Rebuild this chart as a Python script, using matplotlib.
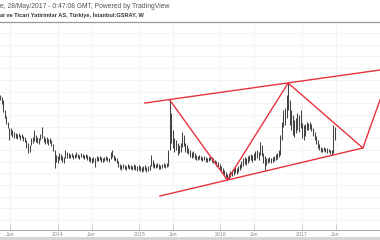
import matplotlib
matplotlib.use("Agg")
import matplotlib.pyplot as plt
import matplotlib.dates as mdates
from matplotlib.patches import Rectangle
import pandas as pd
import numpy as np

# ---- data (weekly bars, GSRAY) ----
start_date = "2013-04-15"
high = [7.75, 7.65, 7.50, 7.00, 6.70, 6.40, 6.10, 6.10, 6.00, 5.90,
        5.85, 5.80, 5.85, 5.75, 5.80, 5.70, 5.65, 5.50, 5.35, 5.25,
        5.60, 5.65, 6.00, 5.75, 5.65, 5.60, 5.80, 6.15, 5.70, 5.60,
        5.65, 5.55, 5.60, 5.50, 5.30, 5.00, 4.75, 4.70, 4.85, 4.80,
        4.70, 4.65, 5.00, 4.90, 4.85, 4.80, 4.85, 4.75, 4.80, 4.90,
        4.80, 4.75, 4.85, 4.80, 4.75, 4.80, 4.75, 4.70, 4.65, 4.60,
        4.65, 4.60, 4.70, 4.65, 4.70, 4.65, 4.60, 4.65, 4.70, 4.65,
        4.60, 4.90, 5.00, 4.75, 4.65, 4.60, 4.45, 4.30, 4.25, 4.30,
        4.25, 4.20, 4.30, 4.25, 4.25, 4.20, 4.30, 4.25, 4.20, 4.25,
        4.20, 4.15, 4.20, 4.25, 4.15, 4.20, 4.25, 4.75, 4.50, 4.35,
        4.30, 4.35, 4.30, 4.25, 4.30, 4.35, 4.30, 4.35, 5.00, 7.50,
        6.85, 6.00, 5.60, 5.50, 5.35, 5.25, 5.35, 5.90, 5.75, 5.35,
        5.25, 5.10, 5.00, 4.90, 4.95, 4.85, 4.75, 4.70, 4.75, 4.70,
        4.65, 4.70, 4.65, 4.60, 4.65, 4.70, 4.65, 4.60, 4.50, 4.45,
        4.40, 4.30, 4.20, 4.10, 4.00, 3.90, 3.80, 3.85, 3.95, 4.00,
        4.10, 4.15, 4.10, 4.20, 4.30, 4.45, 4.60, 4.65, 4.60, 4.70,
        4.75, 4.80, 4.75, 4.85, 4.95, 5.00, 4.90, 5.40, 5.25, 4.85,
        4.70, 4.60, 4.60, 4.65, 4.60, 4.65, 4.70, 4.80, 4.85, 5.00,
        5.75, 6.40, 7.00, 7.10, 7.75, 8.35, 7.50, 7.00, 6.75, 6.50,
        6.60, 6.85, 6.75, 7.00, 6.35, 6.25, 6.30, 6.40, 6.35, 6.40,
        6.30, 6.10, 5.90, 5.70, 5.50, 5.30, 5.15, 5.10, 5.15, 5.10,
        5.10, 5.05, 5.00, 5.00, 6.25, 6.15]
low = [7.50, 7.30, 6.90, 6.60, 6.30, 6.10, 5.50, 5.75, 5.65, 5.60,
       5.60, 5.55, 5.65, 5.50, 5.60, 5.45, 5.40, 5.10, 4.85, 4.90,
       5.25, 5.35, 5.45, 5.40, 5.35, 5.30, 5.50, 5.60, 5.40, 5.30,
       5.35, 5.25, 5.35, 5.20, 4.95, 4.10, 4.40, 4.35, 4.50, 4.50,
       4.40, 4.35, 4.60, 4.60, 4.60, 4.60, 4.65, 4.55, 4.60, 4.65,
       4.60, 4.55, 4.65, 4.60, 4.55, 4.60, 4.50, 4.45, 4.40, 4.35,
       4.40, 4.15, 4.45, 4.45, 4.50, 4.40, 4.40, 4.45, 4.50, 4.45,
       4.40, 4.55, 4.65, 4.50, 4.45, 4.35, 4.15, 4.05, 4.00, 4.10,
       4.05, 4.00, 4.10, 4.05, 4.05, 4.00, 4.05, 4.00, 3.95, 4.00,
       3.95, 3.90, 3.95, 4.00, 3.90, 3.95, 4.00, 4.20, 4.15, 4.10,
       4.10, 4.15, 4.05, 4.05, 4.10, 4.15, 4.10, 4.15, 4.20, 5.00,
       5.35, 5.10, 4.90, 5.00, 4.75, 4.85, 4.90, 5.15, 5.20, 4.90,
       4.85, 4.80, 4.65, 4.60, 4.65, 4.55, 4.50, 4.50, 4.55, 4.50,
       4.45, 4.50, 4.40, 4.40, 4.45, 4.50, 4.40, 4.35, 4.30, 4.20,
       4.15, 4.05, 3.95, 3.85, 3.75, 3.65, 3.50, 3.55, 3.65, 3.70,
       3.75, 3.85, 3.80, 3.90, 4.00, 4.10, 4.20, 4.30, 4.25, 4.35,
       4.45, 4.50, 4.40, 4.50, 4.50, 4.60, 4.50, 4.75, 4.70, 4.35,
       4.00, 4.25, 4.35, 4.40, 4.35, 4.40, 4.45, 4.50, 4.55, 4.65,
       4.75, 5.50, 6.15, 6.25, 6.60, 7.00, 6.25, 6.00, 5.75, 5.65,
       5.85, 6.00, 5.90, 6.10, 5.60, 5.50, 5.70, 6.00, 6.00, 6.05,
       5.95, 5.70, 5.50, 5.30, 5.10, 5.00, 4.90, 4.90, 4.95, 4.90,
       4.85, 4.90, 4.80, 4.75, 4.85, 5.50]

# trend drawings
channel_top_dates = ["2015-01-26", "2017-12-18"]
channel_top_prices = [7.35, 9.00]
channel_bot_dates = ["2015-04-04", "2017-10-02"]
channel_bot_prices = [2.70, 5.10]
zigzag_dates = ["2015-05-18", "2016-02-01", "2016-10-31", "2017-10-02", "2017-12-18"]
zigzag_prices = [7.50, 3.50, 8.35, 5.10, 7.50]

tick_dates = ["2013-06-01", "2014-01-01", "2014-06-01", "2015-01-01", "2015-06-01",
              "2016-01-01", "2016-06-01", "2017-01-01", "2017-06-01"]
tick_labels = ["Jun", "2014", "Jun", "2015", "Jun", "2016", "Jun", "2017", "Jun"]

header1 = "e, 28/May/2017 - 0:47:08 GMT, Powered by TradingView"
header2 = "ai ve Ticari Yatirimlar AS, Türkiye, İstanbul:GSRAY, W"

# ---- figure ----
W, H = 380, 240
fig = plt.figure(figsize=(W / 100, H / 100), dpi=100)
fig.patch.set_facecolor("white")
ax = fig.add_axes([0, 10 / H, 1, 208 / H])

dates = pd.date_range(start_date, periods=len(high), freq="7D")
ax.vlines(dates, low, high, color="#444444", linewidth=0.75)

red = "#e8323e"
ax.plot(pd.to_datetime(channel_top_dates), channel_top_prices, color=red, lw=1.0)
ax.plot(pd.to_datetime(channel_bot_dates), channel_bot_prices, color=red, lw=1.0)
ax.plot(pd.to_datetime(zigzag_dates), zigzag_prices, color=red, lw=1.0)

ax.set_xlim(pd.Timestamp("2013-04-15"), pd.Timestamp("2017-12-18"))
ax.set_ylim(1.0, 11.4)

ax.set_xticks(pd.to_datetime(tick_dates))
ax.set_xticklabels(tick_labels, fontsize=3.8, color="#888888", family="Liberation Sans")
ax.tick_params(axis="x", direction="in", length=4, width=0.5, color="#bbbbbb", pad=1.5)
ax.set_yticks([10.85 - 0.585 * k for k in range(17)])
ax.tick_params(axis="y", left=False, labelleft=False)
ax.grid(True, color="#f2f2f2", linewidth=0.6)
ax.set_axisbelow(True)

for s in ["left", "right"]:
    ax.spines[s].set_visible(False)
ax.spines["top"].set_color("#999999")
ax.spines["top"].set_linewidth(0.9)
ax.spines["bottom"].set_color("#aaaaaa")
ax.spines["bottom"].set_linewidth(0.7)

fig.text(0 / W, 1 - 6.5 / H, header1, fontsize=4.9, color="#555555",
         family="Liberation Sans", va="center", ha="left")
fig.text(0 / W, 1 - 15 / H, header2, fontsize=4.1, color="#333333",
         family="Liberation Sans", fontweight="bold", va="center", ha="left")

fig.patches.append(Rectangle((0, 0), 1, 3 / H, transform=fig.transFigure,
                             facecolor="#d6d6d6", edgecolor="none"))

fig.savefig("out.png", dpi=100)
